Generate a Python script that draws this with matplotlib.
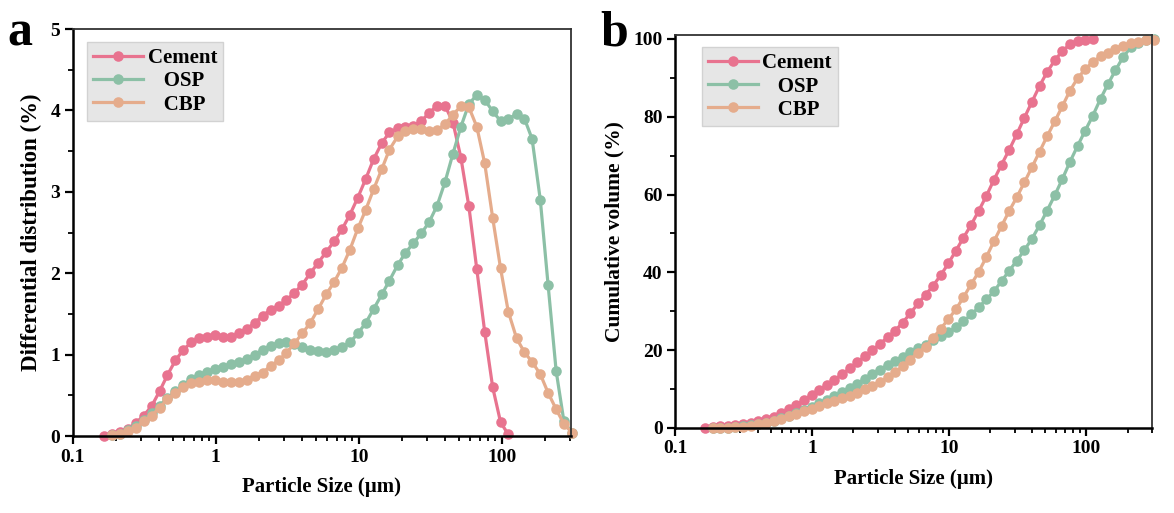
import matplotlib
matplotlib.use("Agg")
import matplotlib.pyplot as plt
from matplotlib.ticker import LogLocator, MultipleLocator, NullFormatter, FixedLocator, FixedFormatter

plt.rcParams['font.family'] = ['Liberation Serif', 'DejaVu Serif']
plt.rcParams['font.weight'] = 'bold'
plt.rcParams['axes.labelweight'] = 'bold'

# particle size classes (um)
size_um = [0.166, 0.188, 0.214, 0.243, 0.276, 0.314, 0.357, 0.405, 0.460, 0.523,
           0.594, 0.675, 0.767, 0.872, 0.991, 1.13, 1.28, 1.45, 1.65, 1.88,
           2.13, 2.42, 2.75, 3.12, 3.55, 4.03, 4.58, 5.21, 5.92, 6.72,
           7.64, 8.68, 9.86, 11.2, 12.7, 14.5, 16.4, 18.7, 21.2, 24.1,
           27.4, 31.1, 35.3, 40.1, 45.6, 51.8, 58.9, 66.9, 76.0, 86.4,
           98.1, 111, 127, 144, 163, 186, 211, 240, 272, 310]

# differential distribution (%), cement uses size_um[0:52], OSP/CBP use size_um[1:]
cement_diff = [0.00, 0.02, 0.05, 0.09, 0.16, 0.25, 0.37, 0.55, 0.75, 0.93,
               1.06, 1.15, 1.21, 1.22, 1.24, 1.22, 1.22, 1.26, 1.32, 1.39,
               1.48, 1.55, 1.60, 1.67, 1.76, 1.86, 2.00, 2.13, 2.26, 2.39,
               2.54, 2.72, 2.93, 3.16, 3.40, 3.60, 3.73, 3.78, 3.80, 3.81,
               3.87, 3.97, 4.06, 4.06, 3.85, 3.42, 2.82, 2.05, 1.28, 0.60,
               0.17, 0.02]
osp_diff = [0.01, 0.03, 0.07, 0.12, 0.20, 0.28, 0.37, 0.47, 0.55,
            0.63, 0.70, 0.75, 0.79, 0.82, 0.85, 0.89, 0.91, 0.95, 1.00,
            1.06, 1.11, 1.14, 1.16, 1.13, 1.09, 1.06, 1.04, 1.03, 1.06,
            1.09, 1.15, 1.26, 1.39, 1.56, 1.74, 1.91, 2.10, 2.25, 2.37,
            2.49, 2.63, 2.83, 3.12, 3.47, 3.80, 4.08, 4.19, 4.13, 3.99,
            3.87, 3.89, 3.96, 3.90, 3.65, 2.90, 1.85, 0.80, 0.18, 0.04]
cbp_diff = [0.01, 0.03, 0.06, 0.10, 0.18, 0.25, 0.35, 0.45, 0.53,
            0.60, 0.65, 0.67, 0.69, 0.69, 0.67, 0.66, 0.67, 0.69, 0.74,
            0.78, 0.86, 0.93, 1.02, 1.14, 1.26, 1.39, 1.56, 1.74, 1.89,
            2.07, 2.29, 2.55, 2.78, 3.03, 3.28, 3.52, 3.68, 3.75, 3.77,
            3.77, 3.75, 3.76, 3.83, 3.95, 4.05, 4.04, 3.80, 3.35, 2.68,
            2.06, 1.53, 1.20, 1.03, 0.91, 0.76, 0.53, 0.33, 0.15, 0.04]

# cumulative volume (%)
cement_cum = [0.1, 0.2, 0.4, 0.6, 0.8, 1.0, 1.3, 1.7, 2.2, 2.9,
              3.8, 4.8, 5.9, 7.2, 8.5, 9.8, 11.1, 12.4, 13.8, 15.3,
              16.9, 18.4, 20.0, 21.6, 23.3, 25.0, 27.1, 29.5, 32.0, 34.2,
              36.6, 39.3, 42.3, 45.6, 48.9, 52.3, 55.8, 59.7, 63.8, 67.7,
              71.5, 75.5, 79.7, 83.8, 87.9, 91.5, 94.5, 96.9, 98.6, 99.4,
              99.8, 100.0]
osp_cum = [0.0, 0.05, 0.1, 0.2, 0.4, 0.7, 1.0, 1.4, 1.9,
           2.5, 3.2, 3.9, 4.7, 5.5, 6.4, 7.3, 8.2, 9.2, 10.3,
           11.4, 12.6, 13.8, 15.0, 16.2, 17.3, 18.3, 19.5, 20.5, 21.4,
           22.5, 23.6, 24.6, 25.9, 27.4, 29.2, 31.0, 33.1, 35.1, 37.8,
           40.4, 43.0, 45.7, 48.6, 52.1, 55.9, 59.8, 64.0, 68.4, 72.5,
           76.4, 80.1, 84.6, 88.4, 91.9, 95.4, 97.8, 99.0, 99.6, 99.9]
cbp_cum = [0.0, 0.05, 0.1, 0.2, 0.35, 0.6, 0.9, 1.3, 1.8,
           2.4, 3.0, 3.6, 4.3, 5.0, 5.6, 6.3, 6.9, 7.6, 8.3,
           9.1, 10.0, 10.9, 11.9, 13.0, 14.3, 15.9, 17.6, 19.4, 20.9,
           23.2, 25.5, 28.0, 30.5, 33.6, 37.0, 40.1, 44.0, 48.0, 51.9,
           55.8, 59.3, 63.1, 67.0, 71.0, 75.0, 78.8, 82.7, 86.7, 89.9,
           92.2, 94.0, 95.5, 96.5, 97.4, 98.3, 98.9, 99.3, 99.6, 99.8]

labels = ['Cement', '   OSP', '   CBP']
colors = ['#e8738f', '#8cc0a6', '#e5ac8c']

fig = plt.figure(figsize=(11.74, 5.13), dpi=100)
ax_a = fig.add_axes([0.0619, 0.150, 0.4245, 0.7934])
ax_b = fig.add_axes([0.575, 0.1657, 0.406, 0.766])

panels = [
    (ax_a, [cement_diff, osp_diff, cbp_diff], 'Differential distribution (%)', 16.5, (0, 5), 1, 0.5, 305,
     (0.029, 0.968)),
    (ax_b, [cement_cum, osp_cum, cbp_cum], 'Cumulative volume (%)', 15.5, (0, 101), 20, 10, 300,
     (0.056, 0.969)),
]

for ax, series, ylab, ylab_fs, ylim, major, minor, xmax, leg_pos in panels:
    xs = [size_um[:52], size_um[1:], size_um[1:]]
    for x, y, lab, c in zip(xs, series, labels, colors):
        ax.plot(x, y, '-o', color=c, lw=2.3, ms=7.6, mew=0, label=lab, clip_on=False)
    ax.set_xscale('log')
    ax.set_xlim(0.1, xmax)
    ax.set_ylim(*ylim)
    ax.xaxis.set_major_locator(FixedLocator([0.1, 1, 10, 100]))
    ax.xaxis.set_major_formatter(FixedFormatter(['0.1', '1', '10', '100']))
    ax.xaxis.set_minor_locator(LogLocator(base=10, subs=range(2, 10), numticks=20))
    ax.xaxis.set_minor_formatter(NullFormatter())
    ax.yaxis.set_major_locator(MultipleLocator(major))
    ax.yaxis.set_minor_locator(MultipleLocator(minor))
    ax.tick_params(which='major', direction='out', length=6, width=1.6, labelsize=14,
                   top=False, right=False, pad=3)
    ax.tick_params(which='minor', direction='out', length=3.5, width=1.3,
                   top=False, right=False)
    for s in ['left', 'bottom']:
        ax.spines[s].set_linewidth(1.8)
        ax.spines[s].set_color('black')
    for s in ['top', 'right']:
        ax.spines[s].set_linewidth(1.3)
        ax.spines[s].set_color('#333333')
    ax.set_xlabel('Particle Size (µm)', fontsize=15, labelpad=8)
    ax.set_ylabel(ylab, fontsize=ylab_fs, labelpad=6)
    leg = ax.legend(loc='upper left', bbox_to_anchor=leg_pos, borderaxespad=0,
                    frameon=True, fancybox=False, facecolor='#e6e6e6', edgecolor='#d2d2d2',
                    framealpha=1, prop={'weight': 'bold', 'size': 15},
                    handlelength=2.4, handletextpad=0.2, labelspacing=0.15, borderpad=0.3)
    leg.get_frame().set_linewidth(1.0)

fig.text(0.006, 0.912, 'a', fontsize=36, fontweight='bold', va='baseline')
fig.text(0.511, 0.912, 'b', fontsize=36, fontweight='bold', va='baseline')

fig.savefig('out.png', dpi=100)
